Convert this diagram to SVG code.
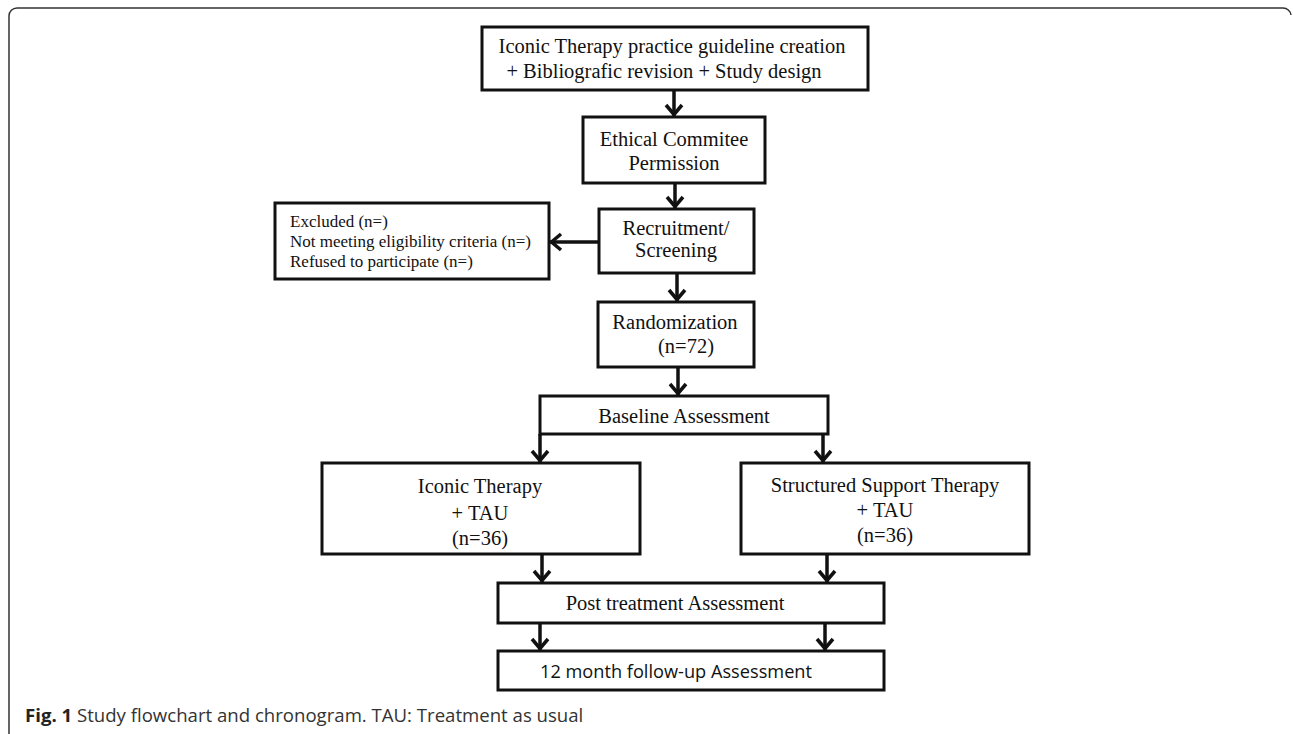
<svg xmlns="http://www.w3.org/2000/svg" width="1293" height="734" viewBox="0 0 1293 734">
<style>
.box{fill:#fff;stroke:#111;stroke-width:3}
.t{font-family:"Liberation Serif","Times New Roman",serif;font-size:20.5px;fill:#111;text-anchor:middle}
.s{font-family:"Liberation Serif","Times New Roman",serif;font-size:17px;fill:#111}
.c{stroke:#111;stroke-width:3.5;fill:none}
.frame{fill:none;stroke:#333;stroke-width:1.5}
</style>
<defs>
<marker id="ah" viewBox="-14 -10 16 20" refX="0" refY="0" markerWidth="16" markerHeight="20" markerUnits="userSpaceOnUse" orient="auto">
<path d="M-11,-8 L-1.5,0 L-11,8" fill="none" stroke="#111" stroke-width="3.5"/>
</marker>
</defs>
<path class="frame" d="M9,734 L9,16 A8,8 0 0 1 17,8 L1283,8 A8,8 0 0 1 1291,15"/>
<g id="connectors">
<line class="c" x1="674" y1="90" x2="674" y2="116" marker-end="url(#ah)"/>
<line class="c" x1="675" y1="183" x2="675" y2="208" marker-end="url(#ah)"/>
<line class="c" x1="599" y1="242" x2="550" y2="242" marker-end="url(#ah)"/>
<line class="c" x1="677" y1="273" x2="677" y2="301" marker-end="url(#ah)"/>
<line class="c" x1="678" y1="367" x2="678" y2="395" marker-end="url(#ah)"/>
<line class="c" x1="540" y1="434" x2="540" y2="462" marker-end="url(#ah)"/>
<line class="c" x1="823" y1="434" x2="823" y2="462" marker-end="url(#ah)"/>
<line class="c" x1="542" y1="554" x2="542" y2="582" marker-end="url(#ah)"/>
<line class="c" x1="827" y1="554" x2="827" y2="582" marker-end="url(#ah)"/>
<line class="c" x1="540" y1="623" x2="540" y2="650" marker-end="url(#ah)"/>
<line class="c" x1="825" y1="623" x2="825" y2="650" marker-end="url(#ah)"/>
</g>
<g id="guideline">
<rect class="box" x="482" y="27" width="386" height="63"/>
<text class="t" x="672" y="53">Iconic Therapy practice guideline creation</text>
<text class="t" x="664" y="78">+ Bibliografic revision + Study design</text>
</g>
<g id="ethical">
<rect class="box" x="583" y="117" width="182" height="66"/>
<text class="t" x="674" y="146">Ethical Commitee</text>
<text class="t" x="674" y="170">Permission</text>
</g>
<g id="excluded">
<rect class="box" x="275" y="203" width="274" height="76"/>
<text class="s" x="290" y="227">Excluded (n=)</text>
<text class="s" x="290" y="247">Not meeting eligibility criteria (n=)</text>
<text class="s" x="290" y="267">Refused to participate (n=)</text>
</g>
<g id="recruitment">
<rect class="box" x="599" y="209" width="155" height="64"/>
<text class="t" x="676" y="235">Recruitment/</text>
<text class="t" x="676" y="257">Screening</text>
</g>
<g id="randomization">
<rect class="box" x="598" y="302" width="156" height="65"/>
<text class="t" x="675" y="329">Randomization</text>
<text class="t" x="686" y="353">(n=72)</text>
</g>
<g id="baseline">
<rect class="box" x="540" y="396" width="288" height="38"/>
<text class="t" x="684" y="423">Baseline Assessment</text>
</g>
<g id="iconic">
<rect class="box" x="322" y="463" width="318" height="91"/>
<text class="t" x="480" y="493">Iconic Therapy</text>
<text class="t" x="480" y="520">+ TAU</text>
<text class="t" x="480" y="545">(n=36)</text>
</g>
<g id="structured">
<rect class="box" x="741" y="463" width="288" height="91"/>
<text class="t" x="885" y="492">Structured Support Therapy</text>
<text class="t" x="885" y="517">+ TAU</text>
<text class="t" x="885" y="542">(n=36)</text>
</g>
<g id="post">
<rect class="box" x="498" y="583" width="386" height="40"/>
<text class="t" x="675" y="610">Post treatment Assessment</text>
</g>
<g id="followup">
<rect class="box" x="498" y="651" width="386" height="39"/>
<text x="676" y="678" style="font-family:'Open Sans','Noto Sans',sans-serif;font-size:18.2px;fill:#111;text-anchor:middle">12 month follow-up Assessment</text>
</g>
<text x="25" y="722" style="font-family:'Open Sans','Noto Sans',sans-serif;font-size:18.6px;fill:#333"><tspan font-weight="bold" fill="#222">Fig. 1</tspan> Study flowchart and chronogram. TAU: Treatment as usual</text>
</svg>
